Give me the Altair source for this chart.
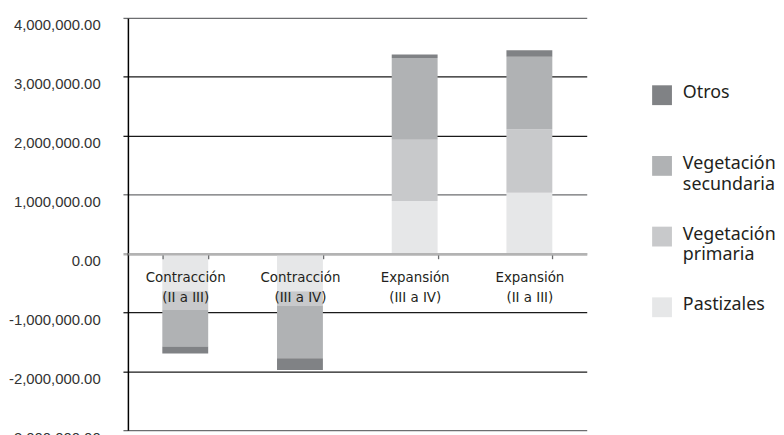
import altair as alt
import pandas as pd

categories = ["Contracción|(II a III)", "Contracción|(III a IV)", "Expansión|(III a IV)", "Expansión|(II a III)"]
series = ["Pastizales", "Vegetación|primaria", "Vegetación|secundaria", "Otros"]
pastizales = [-640000, -640000, 890000, 1030000]
primaria = [-320000, -250000, 1040000, 1080000]
secundaria = [-620000, -890000, 1390000, 1230000]
otros = [-120000, -200000, 60000, 110000]
colors = ["#e6e7e8", "#c8c9cb", "#b0b2b4", "#808285"]
y_ticks = [-3000000, -2000000, -1000000, 0, 1000000, 2000000, 3000000, 4000000]

rows = []
for i, (name, vals) in enumerate(zip(series, [pastizales, primaria, secundaria, otros])):
    for c, v in zip(categories, vals):
        rows.append({"cat": c, "serie": name, "valor": v, "orden": i})
df = pd.DataFrame(rows)

legend_order = series[::-1]
legend_colors = colors[::-1]
legend_df = pd.DataFrame({"serie": legend_order})

color_scale = alt.Scale(domain=legend_order, range=legend_colors)

grid_color = {"condition": [{"test": "datum.value == 0", "value": "#b3b3b3"},
                            {"test": "datum.value == 4000000 || datum.value == 1000000 || datum.value == -3000000", "value": "#6d6e70"}],
              "value": "#1a1a1a"}
grid_width = {"condition": {"test": "datum.value == 0", "value": 2.5}, "value": 1.3}

bars = alt.Chart(df).mark_bar().encode(
    x=alt.X("cat:N", sort=categories, title=None,
            scale=alt.Scale(paddingInner=0.6, paddingOuter=0.3),
            axis=alt.Axis(orient="bottom", offset=-178, labelExpr="split(datum.label, '|')",
                          labelFont="DejaVu Sans Condensed, Roboto", labelFontSize=15, labelLineHeight=20,
                          labelColor="#231f20", labelAngle=0, tickBand="extent", tickSize=5,
                          tickColor="#6d6e70", tickWidth=1.3, domainColor="#b3b3b3", domainWidth=2.5,
                          labelPadding=11, zindex=1)),
    y=alt.Y("valor:Q", stack="zero", title=None,
            scale=alt.Scale(domain=[-3000000, 4000000], nice=False),
            axis=alt.Axis(values=y_ticks,
                          labelExpr="datum.value == -3000000 ? '-3.000.000.00' : replace(format(datum.value, ',.2f'), '\u2212', '-')",
                          labelFont="Liberation Sans, Arial", labelFontSize=15, labelFontWeight="normal",
                          labelColor="#333333",
                          labelBaseline="top", labelPadding=23, tickSize=5,
                          tickColor=grid_color, gridColor=grid_color, gridWidth=grid_width,
                          tickWidth=grid_width,
                          domainColor="#000000", domainWidth=1.5)),
    color=alt.Color("serie:N", scale=color_scale, legend=None),
    order=alt.Order("orden:Q", sort="ascending"),
).properties(width=463, height=416)

leg_y = alt.Y("serie:N", sort=legend_order, axis=None,
              scale=alt.Scale(type="point", domain=legend_order, range=[78, 292], padding=0))

leg_sym = alt.Chart(legend_df).mark_square(size=400, opacity=1).encode(
    x=alt.value(21), y=leg_y,
    color=alt.Color("serie:N", scale=color_scale, legend=None),
)
leg_txt = alt.Chart(legend_df).mark_text(
    align="left", baseline="top", dy=-11, lineBreak="|", lineHeight=21,
    font="Noto Sans", fontSize=18, color="#231f20",
).encode(x=alt.value(42), y=leg_y, text="serie:N")

legend = alt.layer(leg_sym, leg_txt).properties(width=100, height=416)

chart = alt.hconcat(bars, legend, spacing=55).properties(
    padding={"left": 0, "top": 7, "right": 0, "bottom": 0},
).configure_view(stroke=None)

chart.save("out.html", embed_options={"renderer": "svg", "actions": False})
